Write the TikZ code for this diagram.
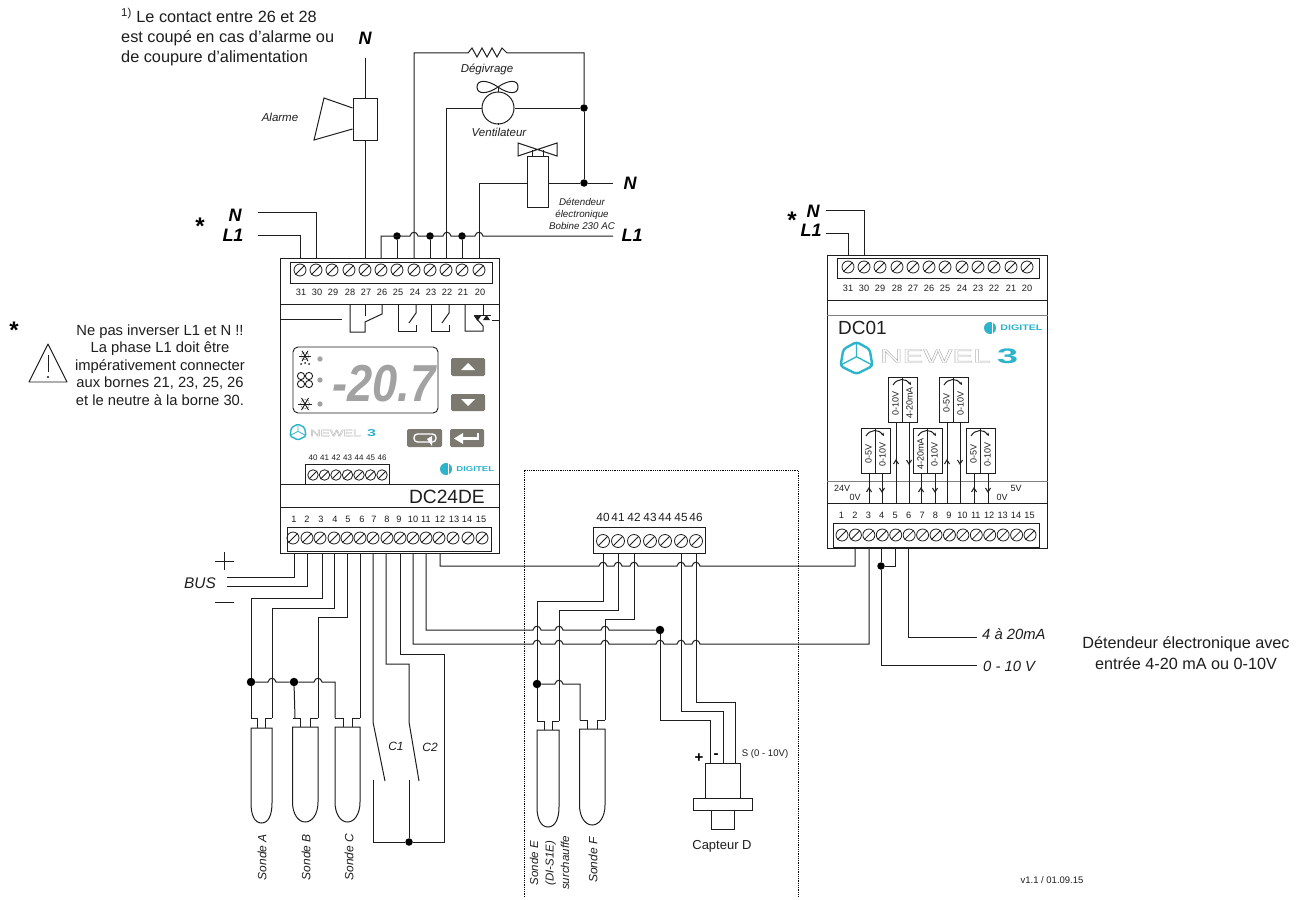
\documentclass[tikz,border=0pt]{standalone}
\usepackage{fontspec}
\setmainfont{Liberation Sans}
\usetikzlibrary{arrows.meta}
\definecolor{ink}{HTML}{1E1E1E}
\definecolor{teal1}{HTML}{2DB4CC}
\definecolor{btn}{HTML}{7C7A70}
\definecolor{seg}{HTML}{A2A2A2}
\newcommand\pxf[2]{\fontsize{#1}{#2}\selectfont}
\newcommand\outl[2]{\special{pdf:code q 1 Tr #1 w}#2\special{pdf:code Q}}
\newcommand\hp[2]{-- ({#1-4},{#2}) .. controls ({#1-3},{#2-5}) and ({#1+3},{#2-5}) .. ({#1+4},{#2})}
\newcommand\screw[4]{\node[circle,draw=ink,line width=.8pt,minimum size=#4pt,inner sep=0pt] (#1) at (#2,#3) {};\draw[line width=.8pt,ink] (#1.225) -- (#1.45);}
\newcommand\sonde[7]{% x1 x2 top bot n1 n2 wtop
 \draw[wire] (#1,#3) -- (#1,{#4-20}) .. controls (#1,{#4-8}) and ({(#1+#2)/2-7},#4) .. ({(#1+#2)/2},#4) .. controls ({(#1+#2)/2+7},#4) and (#2,{#4-8}) .. (#2,{#4-20}) -- (#2,#3) -- cycle;
 \draw[wire] (#1,#7) -- (#5,#7) -- (#5,#3);
 \draw[wire] (#2,#7) -- (#6,#7) -- (#6,#3);}
\newcommand\swbox[5]{% name x y t1 t2
 \node[draw=ink,line width=.9pt,anchor=north west,minimum width=29pt,minimum height=45pt,inner sep=0pt] (#1) at (#2,#3) {};
 \draw[wire] ({#2+14.5},#3) -- ({#2+14.5},{#3+45});
 \node[swt] at ({#2+7.5},{#3+26}) {#4};
 \node[swt] at ({#2+21.5},{#3+26}) {#5};
 \draw[wire,-{Stealth[length=3pt,width=3pt]}] ({#2+5},{#3+8}) .. controls ({#2+9},{#3+1}) and ({#2+18},{#3+1}) .. ({#2+23},{#3+8});}
\newcommand\chevup[2]{\draw[wire] ({#1-2.5},{#2+4}) -- (#1,#2) -- ({#1+2.5},{#2+4});}
\newcommand\chevdn[2]{\draw[wire] ({#1-2.5},{#2-4}) -- (#1,#2) -- ({#1+2.5},{#2-4});}
\newcommand\cubeicon[5]{% x y r lw corner
 \begin{scope}[shift={(#1,#2)},x=#3pt,y=#3pt]
 \draw[teal1,line width=.55*#4pt,line join=round] (-.95,-.42) -- (0,.08) -- (.95,-.42) (0,.08) -- (0,.95);
 \draw[teal1,line width=#4pt,line join=round,rounded corners=#5pt] (0,-1) -- (1,-.5) -- (.82,.55) -- (0,1) -- (-.82,.55) -- (-1,-.5) -- cycle;
 \end{scope}}
\newcommand\digitellogo[4]{% x y r size
 \fill[teal1] (#1,#2) circle [radius=#3];
 \fill[white] ({#1+.25*#3},{#2-1.1*#3}) rectangle ({#1+.5*#3},{#2+1.1*#3});
 \node[anchor=west,inner sep=0pt,text=teal1,font=\pxf{#4}{9}\bfseries] at ({#1+1.7*#3},#2) {\scalebox{1.33}[1]{DIGITEL}};}
\newcommand\flake[3]{\foreach \a in {0,60,120}{\draw[ink,line width=.9pt] ({#1+#3*cos(\a)},{#2+#3*sin(\a)}) -- ({#1-#3*cos(\a)},{#2-#3*sin(\a)});}
 \draw[ink,line width=.6pt,densely dotted] (#1,#2) circle [radius={.65*#3}];}
\tikzset{
 wire/.style={ink,line width=1pt,line join=miter},
 dot/.style={circle,fill=black,inner sep=0pt,minimum size=7.5pt},
 num/.style={inner sep=0pt,text=ink,font=\pxf{9.2}{11}},
 swt/.style={rotate=90,inner sep=0pt,text=ink,font=\pxf{9}{11}},
 blab/.style={inner sep=0pt,text=black,font=\pxf{18}{20}\bfseries\itshape},
 ilab/.style={inner sep=0pt,text=ink,font=\pxf{11.5}{13}\itshape},
 slab/.style={inner sep=0pt,text=ink,font=\pxf{12}{15}\itshape,rotate=90,align=center},
 box/.style={draw=ink,line width=1.1pt,anchor=north west,inner sep=0pt},
 btnbox/.style={fill=btn,rounded corners=1.5pt},
}
\begin{document}
\begin{tikzpicture}[x=1pt,y=-1pt]
\useasboundingbox (0,0) rectangle (1303,899);
\fill[white] (0,0) rectangle (1303,899);

%% ---------- DC24DE
\node[box,minimum width=219pt,minimum height=295pt] (dcA) at (280,258) {};
\node[box,line width=.9pt,minimum width=202pt,minimum height=21pt] at (290,262) {};
\foreach \n/\x in {31/300,30/316,29/332,28/349,27/365,26/381,25/397,24/414,23/430,22/446,21/462,20/479}{
 \screw{sa\n}{\x}{270}{12}
 \coordinate (wa\n) at (\x,258);
 \node[num] at ({\x+1},292) {\n};
}
\draw[wire] (dcA.west|-0,304.5) -- (dcA.east|-0,304.5);
\draw[wire] (dcA.west|-0,484) -- (dcA.east|-0,484);
\draw[wire] (dcA.west|-0,507) -- (dcA.east|-0,507);
\node[anchor=east,inner sep=0pt,text=ink,font=\pxf{19.2}{20}] at (485,497) {DC24DE};
% relays
\draw[wire] (280,319) -- (342,319);
\draw[wire] (350,304.5) -- (350,332) -- (365,332) -- (365,322) -- (382,314) -- (382,304.5);
\draw[wire] (365,304.5) -- (365,316);
\draw[wire] (398,304.5) -- (398,331) -- (416,331) -- (416,325);
\draw[wire] (416,304.5) -- (416,313) -- (409,323);
\draw[wire] (431,304.5) -- (431,331) -- (449,331) -- (449,325);
\draw[wire] (449,304.5) -- (449,313) -- (442,323);
\draw[wire] (465,304.5) -- (465,331) -- (483,331) -- (483,326) -- (477,319);
\draw[wire] (483,304.5) -- (483,315);
\draw[wire] (474,315.5) -- (491,315.5);
\draw[wire] (492,320) -- (499,320);
\fill[ink] (474,316) -- (481,316) -- (477.5,321) -- cycle;
\fill[ink] (483,320) -- (490,320) -- (486.5,315) -- cycle;
% display
\draw[ink,line width=.9pt,rounded corners=5pt] (293,347) rectangle (438,413);
\foreach \y in {359,380,404}{\fill[seg] (320,\y) circle [radius=2.7];}
\flake{305}{356}{6}
\foreach \dx in {-4,0,4}{\fill[ink] ({305+\dx},{363+abs(\dx)/4}) circle [radius=1];}
\foreach \cx/\cy in {301/376,309/376,301/384,309/384}{\draw[ink,line width=.9pt] (\cx,\cy) circle [radius=3.6];}
\flake{305}{404}{7}
\node[inner sep=0pt,text=seg,font=\pxf{52}{54}\bfseries\itshape] (readout) at (384,384) {\scalebox{.87}[1]{-20.7}};
% buttons
\fill[btnbox] (451,358) rectangle (485,376);
\fill[white] (461,370) -- (475,370) -- (468,363) -- cycle;
\fill[btnbox] (451,394) rectangle (485,411);
\fill[white] (461,399) -- (475,399) -- (468,406) -- cycle;
\fill[btnbox] (407,429) rectangle (442,447);
\draw[white,line width=1.4pt,rounded corners=3.5pt] (414,434) rectangle (436,442);
\fill[white] (427,439) -- (432,436) -- (432,446) -- cycle;
\fill[btnbox] (450,429) rectangle (484,447);
\draw[white,line width=2.4pt] (478,433) -- (478,438.5) -- (460,438.5);
\fill[white] (454,438.5) -- (463,433) -- (463,444) -- cycle;
% logo
\cubeicon{298}{432}{8}{1.4}{1.5}
\node[anchor=west,inner sep=0pt,text=gray!60,font=\pxf{9.2}{11}] (nwA) at (310,433) {\scalebox{1.55}[1]{\outl{.25}{NEWEL}}};
\node[anchor=west,inner sep=0pt,text=teal1,font=\pxf{10}{11}\bfseries] at (367,433) {\scalebox{1.6}[1]{3}};
\digitellogo{446}{469}{6}{7.2}
% small strip
\node[box,line width=.9pt,minimum width=84pt,minimum height=20pt] at (305,464) {};
\foreach \n/\x in {40/313,41/324.5,42/336,43/347.5,44/359,45/370.5,46/382}{
 \screw{sm\n}{\x}{475}{10.5}
 \node[inner sep=0pt,text=ink,font=\pxf{8}{9}] at (\x,458) {\n};
}
% lower strip
\node[box,line width=.9pt,minimum width=204pt,minimum height=24pt] at (287,527) {};
\foreach \i/\x/\w/\t in {1/293/294/294,2/307/307/307,3/320/322/321,4/334/334/335,5/347/347/348,6/360/360/362,7/373/373/374,8/387/386/387,9/400/400/399,10/413/413/413,11/426/426/426,12/439/440/440,13/453/453/454,14/468/468/467,15/482/482/481}{
 \screw{sb\i}{\x}{538}{12}
 \coordinate (wb\i) at (\w,553);
 \node[num] at (\t,519) {\i};
}

%% ---------- DC01
\node[box,minimum width=220pt,minimum height=293pt] (dcB) at (827,255) {};
\node[box,line width=.9pt,minimum width=202pt,minimum height=20pt] at (837,258) {};
\foreach \n/\x in {31/848,30/864,29/880,28/897,27/913,26/929,25/945,24/962,23/978,22/994,21/1011,20/1027}{
 \screw{sc\n}{\x}{267}{12}
 \coordinate (wc\n) at (\x,255);
 \node[num] at (\x,288) {\n};
}
\draw[wire] (dcB.west|-0,300) -- (dcB.east|-0,300);
\draw[wire,gray] (dcB.west|-0,315) -- (dcB.east|-0,315);
\draw[wire,gray] (dcB.west|-0,481) -- (dcB.east|-0,481);
\draw[wire] (dcB.west|-0,503) -- (dcB.east|-0,503);
\node[anchor=west,inner sep=0pt,text=ink,font=\pxf{19}{20}] at (838,328) {DC01};
\digitellogo{990}{328}{6}{8}
\cubeicon{856.5}{358}{16}{2.4}{3}
\node[anchor=west,inner sep=0pt,text=gray!60,font=\pxf{19}{20}] at (880,356) {\scalebox{1.63}[1]{\outl{.35}{NEWEL}}};
\node[anchor=west,inner sep=0pt,text=teal1,font=\pxf{21}{22}\bfseries] at (997,356) {\scalebox{1.8}[1]{3}};
\swbox{swA}{861}{428}{0-5V}{0-10V}
\swbox{swB}{888}{377}{0-10V}{4-20mA}
\swbox{swC}{913}{428}{4-20mA}{0-10V}
\swbox{swD}{939}{377}{0-5V}{0-10V}
\swbox{swE}{966}{428}{0-5V}{0-10V}
\foreach \x/\yy in {869/473,882/473,896/423,909/423,921/473,935/473,947/423,960/423,974/473,988/473}{\draw[wire] (\x,\yy) -- (\x,503);}
\foreach \x/\y in {869/488,896/460,921/488,947/460,974/488}{\chevup{\x}{\y}}
\foreach \x/\y in {882/492,909/464,935/492,960/464,988/492}{\chevdn{\x}{\y}}
\node[inner sep=0pt,text=ink,font=\pxf{9}{10}] at (842,488) {24V};
\node[inner sep=0pt,text=ink,font=\pxf{9}{10}] at (855,497) {0V};
\node[inner sep=0pt,text=ink,font=\pxf{9}{10}] at (1016,488) {5V};
\node[inner sep=0pt,text=ink,font=\pxf{9}{10}] at (1002,497) {0V};
\node[box,line width=.9pt,minimum width=206pt,minimum height=24pt] at (833,523) {};
\foreach \i/\w in {1/842,2/855,3/869,4/881,5/895,6/908,7/921,8/935,9/948,10/961,11/975,12/988,13/1002,14/1015,15/1030}{
 \pgfmathsetmacro\x{842+(\i-1)*13.43}
 \screw{sd\i}{\x}{535}{12}
 \coordinate (wd\i) at (\w,548);
 \node[num] at ({\x-.5},515) {\i};
}

%% ---------- free strip 40-46
\node[box,minimum width=112pt,minimum height=26pt] (stripE) at (593,527) {};
\foreach \n/\x in {40/603,41/618,42/634,43/650,44/665,45/681,46/696}{
 \screw{se\n}{\x}{541}{13}
 \coordinate (we\n) at (\x,553);
 \node[inner sep=0pt,text=ink,font=\pxf{11.8}{14}] at (\x,517) {\n};
}
\draw[black,line width=.8pt,densely dotted] (524,897) -- (524,470) -- (798,470) -- (798,897);

%% ---------- top wiring
\coordinate (fL) at (258,235); \coordinate (fN) at (258,212);
\node[blab] at (235,215) {N};
\node[blab] at (233,235) {L1};
\node[inner sep=0pt,font=\pxf{24}{26}\bfseries] at (200,226.5) {*};
\draw[wire] (wa31) |- (fL);
\draw[wire] (wa30) |- (fN);
\node[draw=ink,line width=.9pt,minimum width=24pt,minimum height=42pt,inner sep=0pt] (alarm) at (365,119) {};
\coordinate (fNt) at (365,58);
\draw[wire] (wa27) -- (alarm.south);
\draw[wire] (alarm.north) -- (fNt);
\draw[wire] (alarm.west|-0,108) -- (324,98) -- (314,140) -- (alarm.west|-0,129);
\node[blab] at (365,38) {N};
\node[ilab] at (280,117) {Alarme};

\coordinate (rL) at (613,236); \coordinate (rN) at (613,183);
\node[dot] (j25) at (397,236) {};
\node[dot] (j23) at (430,236) {};
\node[dot] (j21) at (462,236) {};
\draw[wire] (wa26) -- (381,236) \hp{414}{236} \hp{447}{236} \hp{479}{236} -- (rL);
\draw[wire] (wa25) -- (j25);
\draw[wire] (wa23) -- (j23);
\draw[wire] (wa21) -- (j21);
\node[dot] (j1) at (584,108) {};
\node[dot] (j2) at (584,183) {};
\draw[wire] (wa24) |- (468,53) -- (472,48) -- (477,57) -- (482,48) -- (487,57) -- (492,48) -- (497,57) -- (502,48) -- (507,53) -- (584,53) -- (j1);
\draw[wire] (j1) -- (j2);
\node[circle,draw=ink,line width=1pt,minimum size=32pt,inner sep=0pt] (fan) at (498,108) {};
\draw[wire] (wa22) |- (fan.west);
\draw[wire] (fan.east) -- (j1);
\draw[wire] (fan.north) -- (498,87);
\draw[wire] (498,87) .. controls (488,80) and (477,79) .. (477,87) .. controls (477,95) and (488,94) .. (498,87) .. controls (508,80) and (518,79) .. (518,87) .. controls (518,95) and (508,94) .. (498,87);
\draw[wire] (fan.south) -- ++(0,-2);
\node[ilab] at (487,69) {Dégivrage};
\node[ilab] at (499,132) {Ventilateur};
\node[draw=ink,line width=.9pt,minimum width=21pt,minimum height=51pt,inner sep=0pt] (coil) at (537.5,181.5) {};
\draw[wire] (wa20) |- (coil.west|-j2);
\draw[wire] (coil.east|-j2) -- (j2) -- (rN);
\draw[wire] (518,143) -- (557,156) -- (557,143) -- (518,156) -- cycle;
\draw[wire] (532,150) -- (532,156) (543,150) -- (543,156);
\node[blab] at (630,183) {N};
\node[blab] at (632,235) {L1};
\node[inner sep=0pt,text=ink,align=center,font=\pxf{9.8}{12.2}\itshape] at (582,214) {Détendeur\\électronique\\Bobine 230 AC};

%% ---------- bottom wiring A
\coordinate (bp) at (227,577); \coordinate (bm) at (227,586);
\draw[wire] (wb1) |- (bp);
\draw[wire] (wb2) |- (bm);
\node[inner sep=0pt,text=ink,font=\pxf{15.4}{17}\itshape] at (200,583) {BUS};
\draw[wire] (215,561) -- (234,561) (224,552) -- (224,570);
\draw[wire] (215,602) -- (234,602);
% probes
\node[dot,minimum width=7pt,minimum height=8.5pt] (pa) at (251,682) {};
\node[dot,minimum width=7pt,minimum height=8.5pt] (pb) at (294,682) {};
\draw[wire] (wb3) |- (251,598) -- (pa) -- (251,718);
\draw[wire] (wb4) |- (272,608) -- (272,718);
\draw[wire] (wb5) |- (318,617) -- (318,718);
\draw[wire] (wb6) -- (360,718);
\draw[wire] (pa) \hp{272}{682} -- (pb) \hp{318}{682} -- (335,682) -- (335,718);
\draw[wire] (pb) -- (295,718);
\sonde{251}{272}{728}{823}{257}{265}{718}
\sonde{292.5}{318}{727}{822}{300}{310}{718}
\sonde{335}{360}{727}{822}{343}{352}{718}
\node[slab] at (262,857) {Sonde A};
\node[slab] at (306,857) {Sonde B};
\node[slab] at (349,857) {Sonde C};
% contacts
\node[dot] (jc) at (409,842) {};
\coordinate (c1a) at (373,722); \coordinate (c1b) at (385,781);
\coordinate (c2a) at (409,722); \coordinate (c2b) at (419,781);
\draw[wire] (wb7) -- (c1a) -- (c1b);
\draw[wire] (wb8) |- (409,664) -- (c2a) -- (c2b);
\draw[wire] (wb9) |- (444,654) -- (444,842) -- (jc) -- (373,842) -- (373,780);
\draw[wire] (jc) -- (409,780);
\node[ilab,font=\pxf{12}{13}\itshape] at (396,746) {C1};
\node[ilab,font=\pxf{12}{13}\itshape] at (430,747) {C2};

%% ---------- long wires
\node[dot,minimum width=7pt,minimum height=8.5pt] (jd) at (660,630) {};
\draw[wire] (wb12) |- (440,566) \hp{603}{566} \hp{618}{566} \hp{634}{566} \hp{681}{566} \hp{696}{566} -| (wd2);
\draw[wire] (wb11) |- (426,630) \hp{537}{630} \hp{559}{630} \hp{605}{630} -- (jd);
\draw[wire] (wb10) |- (413,644) \hp{537}{644} \hp{559}{644} \hp{605}{644} \hp{660}{644} \hp{681}{644} \hp{696}{644} -| (wd3);
%% ---------- probes E F
\draw[wire] (we40) |- (537,601) -- (537,721);
\draw[wire] (we41) |- (559,610) -- (559,721);
\draw[wire] (we42) |- (605,619) -- (605,720);
\node[dot,minimum width=7pt,minimum height=8.5pt] (pe) at (537,684) {};
\draw[wire] (pe) \hp{559}{684} -- (580,684) -- (580,720);
\sonde{537}{559}{730}{827}{544}{552}{721}
\sonde{579.5}{605}{729}{825}{587}{597}{720}
\node[slab,font=\pxf{11.5}{15.5}\itshape] at (549.5,863) {Sonde E\\(DI-S1E)\\surchauffe};
\node[slab] at (593,860) {Sonde F};
%% ---------- sensor D
\draw[wire] (jd) -- (660,720) -- (710,720) -- (710,763);
\draw[wire] (we45) |- (723,711) -- (723,763);
\draw[wire] (we46) |- (735,702) -- (735,763);
\draw[wire] (705,763) rectangle (740,798);
\draw[wire] (693,798) rectangle (752,810);
\draw[wire] (711,810) rectangle (734,829);
\node[inner sep=0pt,font=\pxf{15}{17}\bfseries] at (699,758) {+};
\node[inner sep=0pt,font=\pxf{15}{17}\bfseries] at (716,756) {-};
\node[inner sep=0pt,text=ink,font=\pxf{9.6}{11}] at (765,754) {S (0 - 10V)};
\node[inner sep=0pt,text=ink,font=\pxf{13}{15}] at (722,846) {Capteur D};

%% ---------- DC01 wires
\coordinate (gN) at (826,210); \coordinate (gL) at (826,233);
\draw[wire] (wc30) |- (gN);
\draw[wire] (wc31) |- (gL);
\node[blab] at (813,211) {N};
\node[blab] at (811,230) {L1};
\node[inner sep=0pt,font=\pxf{24}{26}\bfseries] at (792,220.5) {*};
\node[dot] (jv) at (wd4|-0,566) {};
\coordinate (fV) at (977,665); \coordinate (fI) at (977,637);
\draw[wire] (wd4) -- (jv) |- (fV);
\draw[wire] (wd5) |- (jv);
\draw[wire] (wd6) |- (fI);
\node[anchor=west,inner sep=0pt,text=ink,font=\pxf{14.8}{17}\itshape] at (982,634) {4 à 20mA};
\node[anchor=west,inner sep=0pt,text=ink,font=\pxf{14.8}{17}\itshape] at (983,666) {0 - 10 V};

%% ---------- notes
\node[anchor=west,inner sep=0pt,text=ink,align=left,font=\pxf{16.3}{20}] at (121,37) {\textsuperscript{1)} Le contact entre 26 et 28\\est coupé en cas d’alarme ou\\de coupure d’alimentation};
\node[inner sep=0pt,font=\pxf{24}{26}\bfseries] at (14,330.5) {*};
\draw[ink,line width=.9pt,line join=round] (48,344) -- (67,382) -- (29,382) -- cycle;
\draw[ink,line width=.9pt] (48,355) -- (48,372);
\fill[ink] (48,377) circle [radius=1.2];
\node[inner sep=0pt,text=ink,align=center,font=\pxf{14.75}{17.6}] at (160,365) {Ne pas inverser L1 et N !!\\La phase L1 doit être\\impérativement connecter\\aux bornes 21, 23, 25, 26\\et le neutre à la borne 30.};
\node[inner sep=0pt,text=ink,align=center,font=\pxf{16.2}{21}] at (1186,653) {Détendeur électronique avec\\entrée 4-20 mA ou 0-10V};
\node[inner sep=0pt,text=ink,font=\pxf{9.5}{11}] at (1052,880) {v1.1 / 01.09.15};
\end{tikzpicture}
\end{document}
